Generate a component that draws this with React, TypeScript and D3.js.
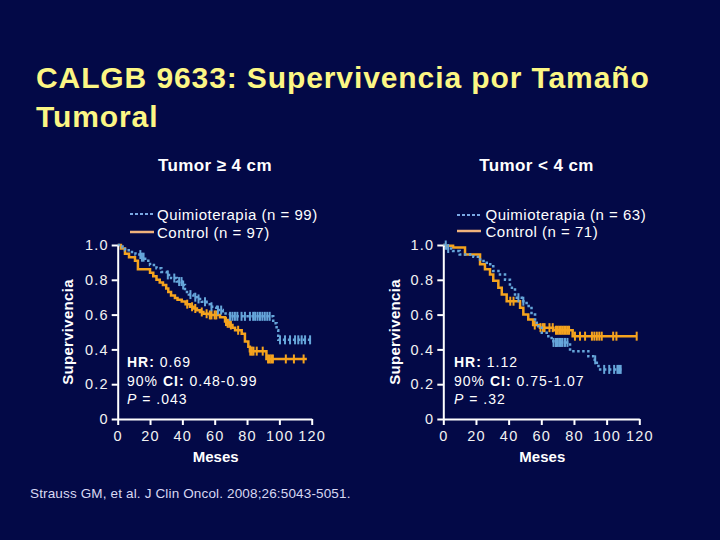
import React, { useEffect, useRef } from "react";
import * as d3 from "d3";

// ---------- DATA ----------
const xTicks = [0, 20, 40, 60, 80, 100, 120];
const yTicks = [0, 0.2, 0.4, 0.6, 0.8, 1.0];

// Left panel: Tumor >= 4 cm
const leftControlT = [0, 2, 4.5, 7, 10.7, 12.5, 20, 22, 24, 26, 28, 30, 31.3, 33, 35.4, 37, 39.6, 42, 44.7, 47, 49, 50.9, 53, 57, 63.3, 66.4, 68, 69.5, 71, 72.6, 76.7, 78.7, 80.8, 81.8, 92];
const leftControlS = [1.0, 0.98, 0.95, 0.93, 0.91, 0.86, 0.84, 0.82, 0.8, 0.785, 0.77, 0.75, 0.73, 0.71, 0.695, 0.685, 0.675, 0.66, 0.645, 0.635, 0.625, 0.615, 0.605, 0.598, 0.585, 0.56, 0.55, 0.54, 0.525, 0.51, 0.49, 0.445, 0.415, 0.39, 0.345];
const leftControlEnd = 117;
const leftControlCensor = [43, 46, 48, 52, 55, 57, 58, 60, 61, 67, 68, 69, 70, 74.5, 82, 83, 84, 86, 89.7, 93, 94, 95, 96, 104, 109, 115];

const leftQuimioT = [0, 3, 4.5, 7.6, 11, 14.8, 17, 20, 24, 27, 30.3, 33, 36.5, 39.6, 41.6, 44, 46.8, 49, 52, 55, 57, 61, 65, 69.4, 96.2, 98.3, 99.3];
const leftQuimioS = [1.0, 0.985, 0.97, 0.96, 0.945, 0.93, 0.91, 0.885, 0.866, 0.845, 0.828, 0.81, 0.79, 0.77, 0.73, 0.715, 0.7, 0.69, 0.674, 0.66, 0.645, 0.626, 0.607, 0.59, 0.55, 0.51, 0.455];
const leftQuimioEnd = 119;
const leftQuimioCensor = [14, 15, 16, 31, 35, 38, 39.5, 40.5, 45, 48, 50, 54, 58, 62, 64, 69.5, 71, 72.5, 74, 76.6, 78.7, 81.8, 83.8, 85, 86.5, 88, 89.5, 91, 92.5, 94, 100.4, 103.5, 106.6, 109.7, 111.7, 113.8, 115.9, 119];

// Right panel: Tumor < 4 cm
const rightControlT = [0, 1, 6, 13.3, 22.5, 25.5, 28.6, 30.6, 33.7, 35.8, 38.8, 47, 49, 52, 55, 59.2, 67.4, 79.2];
const rightControlS = [1.0, 0.995, 0.985, 0.945, 0.89, 0.86, 0.83, 0.795, 0.755, 0.716, 0.677, 0.64, 0.6, 0.572, 0.54, 0.525, 0.51, 0.476];
const rightControlEnd = 118.5;
const rightControlCensor = [41, 43, 56, 59.5, 61, 62, 65, 67, 69, 70, 71, 72, 73, 74, 75, 76, 77, 80.6, 83.7, 86.8, 91, 92.5, 94, 95.5, 97, 104, 106, 118.4];

const rightQuimioT = [0, 2, 6, 10, 18.4, 22.5, 26.6, 30.6, 34.7, 37.8, 40.8, 43.9, 48, 51, 54, 56.2, 58.2, 60.3, 64.3, 67.4, 77.6, 88.8, 91.8, 94, 95];
const rightQuimioS = [1.0, 0.98, 0.965, 0.946, 0.933, 0.908, 0.889, 0.85, 0.83, 0.8, 0.755, 0.697, 0.677, 0.65, 0.6, 0.553, 0.524, 0.495, 0.466, 0.44, 0.39, 0.36, 0.34, 0.313, 0.285];
const rightQuimioEnd = 109;
const rightQuimioCensor = [1.5, 3, 46, 49, 67.5, 69, 70, 71, 72, 73, 74.5, 76, 93, 98.5, 101.6, 104.6, 106.6, 107.6, 108.6];

// ---------- STYLE ----------
const BG = "#030947";
const ORANGE = "#f5a31e";
const BLUE = "#66a6da";
const FONT = "'Liberation Sans', Arial, Helvetica, sans-serif";

type Curve = { t: number[]; s: number[]; end: number; censor: number[] };

function stepValue(c: Curve, m: number): number {
  let v = c.s[0];
  for (let i = 0; i < c.t.length; i++) if (c.t[i] <= m) v = c.s[i];
  return v;
}

type PanelProps = {
  x0: number;
  x1: number;
  quimio: Curve;
  control: Curve;
  title: string;
  titleX: number;
  legQ: string;
  legC: string;
  legLineX: number;
  legTextX: number;
  legY: [number, number];
  legTextY: [number, number];
  hr: string;
  ci: string;
  p: string;
  statX: number;
  ylabX: number;
};

function Panel(props: PanelProps) {
  const { x0, x1, quimio, control } = props;
  const x = d3.scaleLinear().domain([0, 120]).range([x0, x1]);
  const y = d3.scaleLinear().domain([0, 1]).range([419, 245]);
  const xRef = useRef<SVGGElement>(null);
  const yRef = useRef<SVGGElement>(null);

  useEffect(() => {
    const gx = d3.select(xRef.current!);
    gx.selectAll("*").remove();
    gx.call(
      d3.axisBottom(x).tickValues(xTicks).tickSize(6).tickPadding(6).tickSizeOuter(0).tickFormat((d) => String(d))
    );
    const gy = d3.select(yRef.current!);
    gy.selectAll("*").remove();
    gy.call(
      d3
        .axisLeft(y)
        .tickValues(yTicks)
        .tickSize(6)
        .tickPadding(3)
        .tickSizeOuter(0)
        .tickFormat((d) => (+d === 0 ? "0" : d3.format(".1f")(+d)))
    );
    [gx, gy].forEach((g) => {
      g.select(".domain").attr("stroke", "#ffffff").attr("stroke-width", 2);
      g.selectAll(".tick line").attr("stroke", "#ffffff").attr("stroke-width", 2);
      g.selectAll(".tick text")
        .attr("fill", "#f2f2f2")
        .style("font-family", FONT)
        .style("font-size", "14.5px")
        .style("letter-spacing", "1.2px");
    });
  });

  const line = d3
    .line<[number, number]>()
    .x((d) => x(d[0]))
    .y((d) => y(d[1]))
    .curve(d3.curveStepAfter);
  const pts = (c: Curve): [number, number][] => [
    ...c.t.map((t, i) => [t, c.s[i]] as [number, number]),
    [c.end, c.s[c.s.length - 1]],
  ];

  const statStyle: React.CSSProperties = { fontFamily: FONT, fontSize: "14px", letterSpacing: "1px" };

  return (
    <g>
      <text x={props.titleX} y={171} fill="#ffffff" textAnchor="middle" style={{ fontFamily: FONT, fontSize: "17px", fontWeight: "bold", letterSpacing: "0.4px" }}>
        {props.title}
      </text>
      {/* legend */}
      <line x1={props.legLineX} x2={props.legLineX + 24} y1={props.legY[0]} y2={props.legY[0]} stroke="#7aa8e4" strokeWidth={2} strokeDasharray="3 2" />
      <line x1={props.legLineX} x2={props.legLineX + 24} y1={props.legY[1]} y2={props.legY[1]} stroke="#f0b27c" strokeWidth={2.5} />
      <text x={props.legTextX} y={props.legTextY[0]} fill="#ffffff" style={{ fontFamily: FONT, fontSize: "15px", letterSpacing: "0.5px" }}>
        {props.legQ}
      </text>
      <text x={props.legTextX} y={props.legTextY[1]} fill="#ffffff" style={{ fontFamily: FONT, fontSize: "15px", letterSpacing: "0.5px" }}>
        {props.legC}
      </text>
      {/* y label */}
      <text transform={`translate(${props.ylabX},332) rotate(-90)`} textAnchor="middle" fill="#ffffff" style={{ fontFamily: FONT, fontSize: "15px", fontWeight: "bold", letterSpacing: "0.3px" }}>
        Supervivencia
      </text>
      {/* x label */}
      <text x={(x0 + x1) / 2 + 1} y={462} textAnchor="middle" fill="#ffffff" style={{ fontFamily: FONT, fontSize: "15px", fontWeight: "bold" }}>
        Meses
      </text>
      {/* curves */}
      <path d={line(pts(control)) || ""} fill="none" stroke={ORANGE} strokeWidth={2.5} />
      {control.censor.map((m, i) => (
        <line key={"c" + i} x1={x(m)} x2={x(m)} y1={y(stepValue(control, m)) - 4.5} y2={y(stepValue(control, m)) + 4.5} stroke={ORANGE} strokeWidth={2} />
      ))}
      <path d={line(pts(quimio)) || ""} fill="none" stroke={BLUE} strokeWidth={2.5} strokeDasharray="2.5 2.5" />
      {quimio.censor.map((m, i) => (
        <line key={"q" + i} x1={x(m)} x2={x(m)} y1={y(stepValue(quimio, m)) - 4.5} y2={y(stepValue(quimio, m)) + 4.5} stroke={BLUE} strokeWidth={2} />
      ))}
      {/* axes */}
      <g ref={xRef} transform="translate(0,419)" />
      <g ref={yRef} transform={`translate(${x0},0)`} />
      {/* stats */}
      <text x={props.statX} y={367} fill="#ffffff" style={statStyle}>
        <tspan fontWeight="bold">HR:</tspan> {props.hr}
      </text>
      <text x={props.statX} y={386} fill="#ffffff" style={statStyle}>
        90% <tspan fontWeight="bold">CI:</tspan> {props.ci}
      </text>
      <text x={props.statX} y={404} fill="#ffffff" style={statStyle}>
        <tspan fontStyle="italic">P</tspan> = {props.p}
      </text>
    </g>
  );
}

export default function App() {
  return (
    <svg width={720} height={540} style={{ position: "absolute", left: 0, top: 0, background: BG }}>
      <rect x={0} y={0} width={720} height={540} fill={BG} />
      <text x={36} y={88} fill="#fcf684" style={{ fontFamily: FONT, fontSize: "30px", fontWeight: "bold", letterSpacing: "0.9px" }}>
        CALGB 9633: Supervivencia por Tamaño
      </text>
      <text x={36} y={127} fill="#fcf684" style={{ fontFamily: FONT, fontSize: "30px", fontWeight: "bold", letterSpacing: "0.9px" }}>
        Tumoral
      </text>
      <Panel
        x0={117.7}
        x1={311.7}
        quimio={{ t: leftQuimioT, s: leftQuimioS, end: leftQuimioEnd, censor: leftQuimioCensor }}
        control={{ t: leftControlT, s: leftControlS, end: leftControlEnd, censor: leftControlCensor }}
        title="Tumor ≥ 4 cm"
        titleX={215}
        legQ="Quimioterapia (n = 99)"
        legC="Control (n = 97)"
        legLineX={130}
        legTextX={157}
        legY={[214, 232]}
        legTextY={[219.5, 238]}
        hr="0.69"
        ci="0.48-0.99"
        p=".043"
        statX={127}
        ylabX={72.5}
      />
      <Panel
        x0={443.3}
        x1={639.3}
        quimio={{ t: rightQuimioT, s: rightQuimioS, end: rightQuimioEnd, censor: rightQuimioCensor }}
        control={{ t: rightControlT, s: rightControlS, end: rightControlEnd, censor: rightControlCensor }}
        title="Tumor < 4 cm"
        titleX={536.5}
        legQ="Quimioterapia (n = 63)"
        legC="Control (n = 71)"
        legLineX={457}
        legTextX={485.5}
        legY={[215, 231]}
        legTextY={[220, 237]}
        hr="1.12"
        ci="0.75-1.07"
        p=".32"
        statX={454}
        ylabX={399.5}
      />
      <text x={30} y={498} fill="#d8d8f2" style={{ fontFamily: FONT, fontSize: "13.5px", letterSpacing: "0.15px" }}>
        Strauss GM, et al. J Clin Oncol. 2008;26:5043-5051.
      </text>
    </svg>
  );
}
